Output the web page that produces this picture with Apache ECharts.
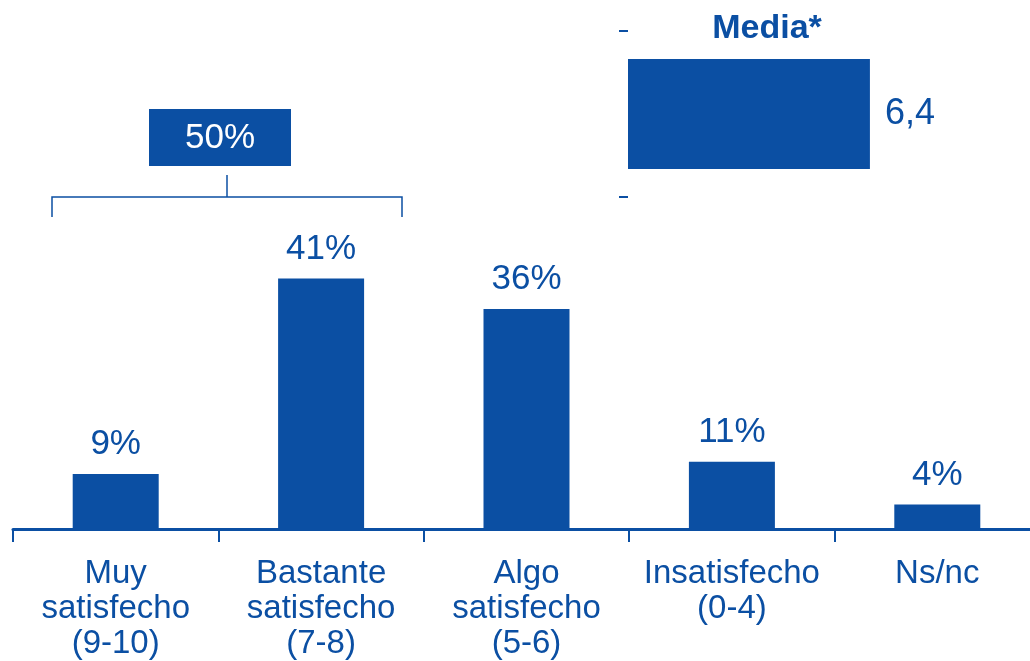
<!DOCTYPE html>
<html>
<head>
<meta charset="utf-8">
<script src="https://cdn.jsdelivr.net/npm/echarts@6/dist/echarts.min.js"></script>
<style>html,body{margin:0;padding:0;background:#fff}#c{width:1030px;height:661px}</style>
</head>
<body>
<div id="c"></div>
<script>
const categories = ['Muy\nsatisfecho\n(9-10)', 'Bastante\nsatisfecho\n(7-8)', 'Algo\nsatisfecho\n(5-6)', 'Insatisfecho\n(0-4)', 'Ns/nc'];
const values = [9, 41, 36, 11, 4];
const mediaLabel = ['Media*'];
const mediaValue = [6.4];
const groupTotal = values[0] + values[1];

const BLUE = '#0B4FA3';
const FONT = '"Liberation Sans", Arial, sans-serif';

const chart = echarts.init(document.getElementById('c'));
chart.setOption({
  animation: false,
  backgroundColor: '#fff',
  title: {
    text: mediaLabel[0],
    left: 762, top: 7, textAlign: 'center',
    textStyle: { color: BLUE, fontFamily: FONT, fontWeight: 'bold', fontSize: 34 }
  },
  grid: [
    { left: 13, width: 1027, top: 40, bottom: 132, containLabel: false, outerBoundsMode: 'none' },
    { left: 628, width: 378, top: 31, height: 166, containLabel: false, outerBoundsMode: 'none' }
  ],
  xAxis: [
    {
      gridIndex: 0, type: 'category', data: categories,
      axisLine: { show: true, lineStyle: { color: BLUE, width: 3 } },
      axisTick: { show: true, length: 13, lineStyle: { color: BLUE, width: 2 } },
      axisLabel: { color: BLUE, fontFamily: FONT, fontSize: 33, lineHeight: 35, margin: 27, interval: 0 }
    },
    { gridIndex: 1, type: 'value', min: 0, max: 10, show: false }
  ],
  yAxis: [
    { gridIndex: 0, type: 'value', min: 0, max: 80, show: false },
    {
      gridIndex: 1, type: 'category', data: mediaLabel,
      axisLine: { show: false },
      axisTick: { show: true, length: 9, lineStyle: { color: BLUE, width: 2 } },
      axisLabel: { show: false }
    }
  ],
  series: [
    {
      type: 'bar', xAxisIndex: 0, yAxisIndex: 0, data: values, barWidth: 86,
      itemStyle: { color: BLUE },
      label: {
        show: true, position: 'top', distance: 12, color: BLUE,
        fontFamily: FONT, fontSize: 35, formatter: p => p.value + '%'
      }
    },
    {
      type: 'bar', xAxisIndex: 1, yAxisIndex: 1, data: mediaValue, barWidth: 110,
      itemStyle: { color: BLUE },
      label: {
        show: true, position: 'right', distance: 15, color: BLUE,
        fontFamily: FONT, fontSize: 36, formatter: p => String(p.value).replace('.', ',')
      }
    }
  ],
  graphic: [
    {
      type: 'rect', shape: { x: 149, y: 109, width: 142, height: 57 },
      style: { fill: BLUE }
    },
    {
      type: 'text', x: 220, y: 138,
      style: { text: groupTotal + '%', fill: '#fff', font: '35px ' + FONT, textAlign: 'center', textVerticalAlign: 'middle' }
    },
    {
      type: 'polyline', shape: { points: [[227, 175], [227, 197]] },
      style: { stroke: BLUE, lineWidth: 1.5, fill: null }
    },
    {
      type: 'polyline', shape: { points: [[52, 217], [52, 197], [402, 197], [402, 217]] },
      style: { stroke: BLUE, lineWidth: 1.5, fill: null }
    }
  ]
});
</script>
</body>
</html>
